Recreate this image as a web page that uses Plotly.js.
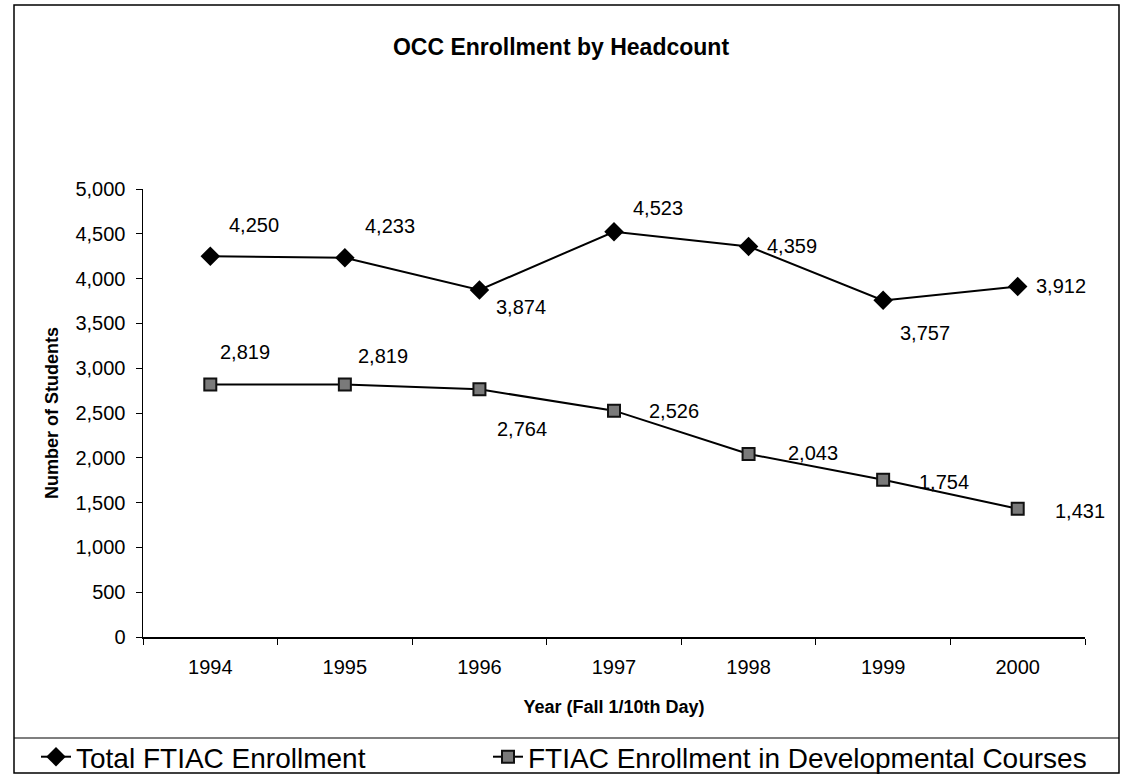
<!DOCTYPE html>
<html>
<head>
<meta charset="utf-8">
<script src="https://cdn.plot.ly/plotly-3.0.1.min.js"></script>
<style>html,body{margin:0;padding:0;background:#fff;}#chart{width:1122px;height:778px;}</style>
</head>
<body>
<div id="chart"></div>
<script>
// ---- data ----
const years = ["1994", "1995", "1996", "1997", "1998", "1999", "2000"];
const totalFTIAC = [4250, 4233, 3874, 4523, 4359, 3757, 3912];
const devFTIAC = [2819, 2819, 2764, 2526, 2043, 1754, 1431];
const seriesNames = ["Total FTIAC Enrollment", "FTIAC Enrollment in Developmental Courses"];
const chartTitle = "OCC Enrollment by Headcount";
const xTitle = "Year (Fall 1/10th Day)";
const yTitle = "Number of Students";

// ---- label offsets in pixels [dx right, dy up] (style only) ----
const totalShift = [[44,31],[45,32],[42,-17],[44,24],[43,0],[42,-33],[43,0]];
const devShift = [[35,32],[38,28],[43,-40],[60,0],[64,1],[61,-2],[62,-2]];

const fmt = v => v.toLocaleString("en-US");
const font = "Arial, 'Liberation Sans', sans-serif";

const traces = [
  {
    x: years, y: totalFTIAC, name: seriesNames[0], type: "scatter", mode: "lines+markers",
    line: {color: "#000", width: 2},
    marker: {symbol: "diamond", size: 15, color: "#000"},
    legend: "legend"
  },
  {
    x: years, y: devFTIAC, name: seriesNames[1], type: "scatter", mode: "lines+markers",
    line: {color: "#000", width: 2},
    marker: {symbol: "square", size: 12, color: "#7a7a7a", line: {color: "#111", width: 2}},
    legend: "legend2"
  }
];

const annotations = [];
years.forEach((yr, i) => {
  annotations.push({x: i, y: totalFTIAC[i], xref: "x", yref: "y", text: fmt(totalFTIAC[i]), showarrow: false,
    xshift: totalShift[i][0], yshift: totalShift[i][1], font: {family: font, size: 20, color: "#000"}});
  annotations.push({x: i, y: devFTIAC[i], xref: "x", yref: "y", text: fmt(devFTIAC[i]), showarrow: false,
    xshift: devShift[i][0], yshift: devShift[i][1], font: {family: font, size: 20, color: "#000"}});
});

const pw = 1122 - 143 - 37, ph = 778 - 189 - 141;
const px = v => (v - 143) / pw;
const py = v => (778 - 141 - v) / ph;

const legendBase = {
  orientation: "h", xref: "container", yref: "container",
  xanchor: "left", y: 1 - 757/778, yanchor: "middle",
  font: {family: font, size: 28, color: "#000"},
  bgcolor: "rgba(0,0,0,0)", borderwidth: 0
};

const layout = {
  width: 1122, height: 778,
  paper_bgcolor: "#fff", plot_bgcolor: "#fff",
  margin: {l: 143, r: 37, t: 189, b: 141},
  font: {family: font, color: "#000"},
  title: {text: "<b>" + chartTitle + "</b>", x: 561/1122, xref: "container", xanchor: "center",
    y: 1 - 47/778, yref: "container", yanchor: "middle", font: {family: font, size: 23, color: "#000"}},
  xaxis: {
    type: "category", range: [-0.5, 6.5], tickson: "boundaries",
    showline: true, linecolor: "#000", linewidth: 1.5, showgrid: false, zeroline: false,
    ticks: "outside", ticklen: 6, tickcolor: "#000", tickwidth: 1,
    tickfont: {family: font, size: 20, color: "#000"}, ticklabelstandoff: 11,
    title: {text: "<b>" + xTitle + "</b>", font: {family: font, size: 18, color: "#000"}, standoff: 24}
  },
  yaxis: {
    range: [0, 5000], dtick: 500, tickformat: ",d",
    showline: true, linecolor: "#000", linewidth: 1.5, showgrid: false, zeroline: false,
    ticks: "outside", ticklen: 6, tickcolor: "#000", tickwidth: 1,
    tickfont: {family: font, size: 20, color: "#000"}, ticklabelstandoff: 6,
    title: {text: "<b>" + yTitle + "</b>", font: {family: font, size: 18, color: "#000"}, standoff: 12}
  },
  showlegend: true,
  legend: Object.assign({}, legendBase, {x: 36/1122}),
  legend2: Object.assign({}, legendBase, {x: 488/1122}),
  annotations: annotations,
  shapes: [
    {type: "rect", xref: "paper", yref: "paper", x0: px(14), x1: px(1119), y0: py(773), y1: py(5),
      line: {color: "#000", width: 1.5}, fillcolor: "rgba(0,0,0,0)"},
    {type: "line", xref: "paper", yref: "paper", x0: px(14), x1: px(1119), y0: py(738), y1: py(738),
      line: {color: "#000", width: 1.2}}
  ]
};

Plotly.newPlot("chart", traces, layout, {displayModeBar: false, staticPlot: true});
</script>
</body>
</html>
